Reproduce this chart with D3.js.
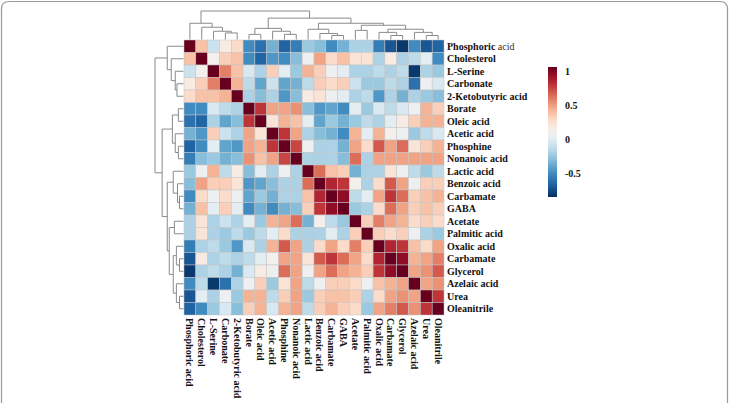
<!DOCTYPE html>
<html>
<head>
<meta charset="utf-8">
<script src="https://cdn.jsdelivr.net/npm/d3@7"></script>
<style>
  html, body { margin: 0; padding: 0; background: #fff; }
  svg { display: block; }
  text { font-family: "Liberation Serif", "Times New Roman", serif; font-weight: bold; fill: #111; }
</style>
</head>
<body>
<svg id="chart" width="729" height="403"></svg>
<script>
// ---- data ----
const labels = ["Phosphoric acid","Cholesterol","L-Serine","Carbonate","2-Ketobutyric acid",
  "Borate","Oleic acid","Acetic acid","Phosphine","Nonanoic acid","Lactic acid",
  "Benzoic acid","Carbamate","GABA","Acetate","Palmitic acid","Oxalic acid",
  "Carbamate","Glycerol","Azelaic acid","Urea","Oleanitrile"];

const corr = [
 [1, 0.35, -0.1, 0.15, 0.25, -0.5, -0.6, -0.35, -0.65, -0.55, -0.25, -0.3, -0.5, -0.35, -0.2, -0.2, -0.55, -0.7, -0.8, -0.5, -0.7, -0.65],
 [0.35, 1, 0.1, 0.3, 0.35, -0.5, -0.65, -0.45, -0.5, -0.3, 0.05, 0.45, 0.25, 0.35, 0.2, 0.2, -0.2, 0.15, -0.2, -0.15, 0.0, -0.5],
 [-0.1, 0.1, 1, 0.55, 0.35, -0.05, -0.2, 0.3, 0.0, -0.25, 0.4, 0.3, 0.05, 0.0, -0.2, -0.2, -0.15, -0.2, -0.15, -0.8, -0.2, -0.25],
 [0.15, 0.3, 0.55, 1, 0.4, -0.15, -0.4, -0.1, -0.4, -0.35, -0.15, 0.3, 0.25, 0.3, -0.1, -0.25, -0.25, -0.15, -0.2, -0.6, 0.05, -0.05],
 [0.25, 0.35, 0.35, 0.4, 1, -0.2, -0.3, -0.2, -0.45, -0.3, 0.15, 0.2, 0.05, 0.0, -0.2, -0.15, -0.45, -0.2, -0.35, -0.2, -0.25, -0.3],
 [-0.5, -0.5, -0.05, -0.15, -0.2, 1, 0.75, 0.45, 0.45, 0.5, -0.3, -0.45, -0.4, -0.5, 0.0, -0.25, -0.05, -0.15, -0.05, 0.05, 0.4, 0.3],
 [-0.6, -0.65, -0.2, -0.4, -0.3, 0.75, 1, 0.2, 0.4, 0.35, 0.0, -0.4, -0.25, -0.35, -0.25, -0.15, -0.2, 0.0, 0.15, 0.3, 0.4, 0.4],
 [-0.35, -0.45, 0.3, -0.1, -0.2, 0.45, 0.2, 1, 0.75, 0.45, -0.2, -0.3, -0.35, -0.5, 0.4, 0.0, 0.4, 0.1, 0.05, -0.25, -0.15, -0.05],
 [-0.65, -0.5, 0.0, -0.4, -0.45, 0.45, 0.4, 0.75, 1, 0.7, 0.05, -0.2, -0.2, -0.35, 0.45, 0.25, 0.65, 0.45, 0.6, 0.2, 0.3, 0.4],
 [-0.55, -0.3, -0.25, -0.35, -0.3, 0.5, 0.35, 0.45, 0.7, 1, -0.2, -0.2, -0.2, -0.3, 0.6, -0.2, 0.45, 0.45, 0.45, 0.45, 0.45, 0.45],
 [-0.25, 0.05, 0.4, -0.15, 0.15, -0.3, 0.0, -0.2, 0.05, -0.2, 1, 0.6, 0.35, 0.3, -0.35, -0.2, -0.2, 0.2, 0.05, -0.15, -0.25, -0.15],
 [-0.3, 0.45, 0.3, 0.3, 0.2, -0.45, -0.4, -0.3, -0.2, -0.2, 0.6, 1, 0.8, 0.75, 0.1, -0.2, 0.25, 0.65, 0.45, 0.05, 0.3, 0.3],
 [-0.5, 0.25, 0.05, 0.25, 0.05, -0.4, -0.25, -0.35, -0.2, -0.2, 0.35, 0.8, 1, 0.9, -0.15, 0.0, 0.45, 0.75, 0.6, 0.3, 0.35, 0.4],
 [-0.35, 0.35, 0.0, 0.3, 0.0, -0.5, -0.35, -0.5, -0.35, -0.3, 0.3, 0.75, 0.9, 1, -0.25, -0.2, 0.25, 0.6, 0.45, 0.3, 0.35, 0.3],
 [-0.2, 0.2, -0.2, -0.1, -0.2, 0.0, -0.25, 0.4, 0.45, 0.6, -0.35, 0.1, -0.15, -0.25, 1, 0.3, 0.55, 0.45, 0.4, 0.25, 0.3, 0.25],
 [-0.2, 0.2, -0.2, -0.25, -0.15, -0.25, -0.15, 0.0, 0.25, -0.2, -0.2, -0.2, 0.0, -0.2, 0.3, 1, 0.3, 0.25, 0.3, 0.05, -0.2, -0.25],
 [-0.55, -0.2, -0.15, -0.25, -0.45, -0.05, -0.2, 0.4, 0.65, 0.45, -0.2, 0.25, 0.45, 0.25, 0.55, 0.3, 1, 0.8, 0.75, 0.35, 0.25, 0.45],
 [-0.7, 0.15, -0.2, -0.15, -0.2, -0.15, 0.0, 0.1, 0.45, 0.45, 0.2, 0.65, 0.75, 0.6, 0.45, 0.25, 0.8, 1, 0.9, 0.4, 0.45, 0.55],
 [-0.8, -0.2, -0.15, -0.2, -0.35, -0.05, 0.15, 0.05, 0.6, 0.45, 0.05, 0.45, 0.6, 0.45, 0.4, 0.3, 0.75, 0.9, 1, 0.45, 0.5, 0.65],
 [-0.5, -0.15, -0.8, -0.6, -0.2, 0.05, 0.3, -0.25, 0.2, 0.45, -0.15, 0.05, 0.3, 0.3, 0.25, 0.05, 0.35, 0.4, 0.45, 1, 0.45, 0.5],
 [-0.7, 0.0, -0.2, 0.05, -0.25, 0.4, 0.4, -0.15, 0.3, 0.45, -0.25, 0.3, 0.35, 0.35, 0.3, -0.2, 0.25, 0.45, 0.5, 0.45, 1, 0.75],
 [-0.65, -0.5, -0.25, -0.05, -0.3, 0.3, 0.4, -0.05, 0.4, 0.45, -0.15, 0.3, 0.4, 0.3, 0.25, -0.25, 0.45, 0.55, 0.65, 0.5, 0.75, 1]
];

// dendrogram: [mergeHeight, left, right]; integers are leaf indices
const tree = [1.0,
  [0.57, 0, [0.43, 1, [0.29, 2, [0.23, 3, 4]]]],
  [0.75,
    [0.39, [0.18, 5, 6], [0.29, 7, [0.18, 8, 9]]],
    [0.57,
      [0.36, 10, [0.21, 11, [0.14, 12, 13]]],
      [0.5, [0.32, 14, 15],
            [0.36, [0.25, 16, [0.14, 17, 18]], [0.25, 19, [0.14, 20, 21]]]]
    ]
  ]
];

const colorDomain = [-0.83, 1];
const legendTicks = [1, 0.5, 0, -0.5];
const legendDomain = [-0.85, 1.06];

// ---- drawing ----
const svg = d3.select("#chart");
const n = labels.length;

// frame
svg.append("path")
  .attr("d", "M1.5,403 L1.5,9 Q1.5,1.5 9,1.5 L720,1.5 Q727.5,1.5 727.5,9 L727.5,403")
  .attr("fill", "none").attr("stroke", "#9a9a9a").attr("stroke-width", 1.2);

const x = d3.scaleBand().domain(d3.range(n)).range([184, 444]);
const y = d3.scaleBand().domain(d3.range(n)).range([40, 315]);
const color = v => d3.interpolateRdBu(1 - (v - colorDomain[0]) / (colorDomain[1] - colorDomain[0]));

const cells = [];
corr.forEach((row, r) => row.forEach((v, c) => cells.push({r, c, v})));

svg.append("g").selectAll("rect").data(cells).join("rect")
  .attr("x", d => x(d.c)).attr("y", d => y(d.r))
  .attr("width", x.bandwidth()).attr("height", y.bandwidth())
  .attr("fill", d => color(d.v))
  .attr("stroke", "#c4c4c4").attr("stroke-width", 0.5);

// dendrograms
const hy = d3.scaleLinear().domain([0, 1]).range([39.5, 11]);   // column tree (top)
const hx = d3.scaleLinear().domain([0, 1]).range([183.5, 155]); // row tree (left)

function layout(node, posFn) {
  if (typeof node === "number") return {pos: posFn(node), h: 0};
  const l = layout(node[1], posFn), r = layout(node[2], posFn);
  return {pos: (l.pos + r.pos) / 2, h: node[0], l, r};
}
function segments(nd, out) {
  if (!nd.l) return out;
  out.push({a: nd.l.pos, b: nd.r.pos, h: nd.h, hl: nd.l.h, hr: nd.r.h});
  segments(nd.l, out); segments(nd.r, out);
  return out;
}
const colTree = segments(layout(tree, i => x(i) + x.bandwidth() / 2), []);
const rowTree = segments(layout(tree, i => y(i) + y.bandwidth() / 2), []);

const dstroke = "#8a8a8a";
svg.append("g").selectAll("path").data(colTree).join("path")
  .attr("d", s => `M${s.a},${hy(s.hl)}V${hy(s.h)}H${s.b}V${hy(s.hr)}`)
  .attr("fill", "none").attr("stroke", dstroke).attr("stroke-width", 1);
svg.append("g").selectAll("path").data(rowTree).join("path")
  .attr("d", s => `M${hx(s.hl)},${s.a}H${hx(s.h)}V${s.b}H${hx(s.hr)}`)
  .attr("fill", "none").attr("stroke", dstroke).attr("stroke-width", 1);

// row labels
const rowLab = svg.append("g").selectAll("text").data(labels).join("text")
  .attr("x", 447).attr("y", (d, i) => y(i) + y.bandwidth() / 2)
  .attr("dy", "0.35em").attr("font-size", 10);
rowLab.each(function(d, i) {
  const t = d3.select(this);
  if (i === 0) {
    t.append("tspan").text("Phosphoric");
    t.append("tspan").text(" acid").style("font-weight", "normal").style("fill", "#333");
  } else t.text(d);
});

// column labels
svg.append("g").selectAll("text").data(labels).join("text")
  .attr("transform", (d, i) => `translate(${x(i) + x.bandwidth() / 2},318) rotate(90)`)
  .attr("dy", "0.35em").attr("font-size", 10)
  .text(d => d);

// legend
const ly = d3.scaleLinear().domain(legendDomain).range([197, 67]);
const defs = svg.append("defs");
const grad = defs.append("linearGradient").attr("id", "lg")
  .attr("x1", 0).attr("y1", 1).attr("x2", 0).attr("y2", 0);
d3.range(0, 1.0001, 0.05).forEach(t => {
  grad.append("stop").attr("offset", t)
    .attr("stop-color", color(colorDomain[0] + t * (colorDomain[1] - colorDomain[0])));
});
svg.append("rect").attr("x", 548).attr("y", 67).attr("width", 9).attr("height", 130)
  .attr("fill", "url(#lg)");
svg.append("g").selectAll("text").data(legendTicks).join("text")
  .attr("x", 565).attr("y", d => ly(d)).attr("dy", "0.35em").attr("font-size", 10)
  .text(d => d);
</script>
</body>
</html>
